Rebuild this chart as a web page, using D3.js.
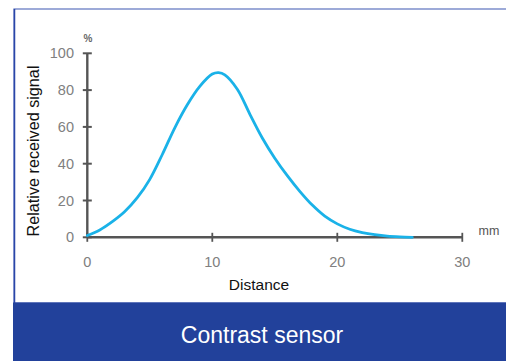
<!DOCTYPE html>
<html><head><meta charset="utf-8">
<script src="https://cdn.jsdelivr.net/npm/d3@7"></script>
<style>body{margin:0;background:#fff;}svg{display:block;}</style>
</head><body>
<script>
const distance = [0, 1, 2, 3, 4, 5, 6, 7, 8, 9, 10, 10.5, 11, 12, 13, 14, 15, 16, 17, 18, 19, 20, 21, 22, 23, 24, 25, 26];
const signal   = [1, 4, 8.5, 14, 21.5, 31.5, 45, 59.5, 72, 82, 88.7, 89.5, 88.3, 80.5, 67, 54, 43, 33.5, 25, 17.5, 11.5, 7.3, 4.4, 2.6, 1.4, 0.6, 0.2, 0];
const xTicks = [0, 10, 20, 30];
const yTicks = [0, 20, 40, 60, 80, 100];

const W = 506, H = 361;
const FONT = "Liberation Sans, Arial, Helvetica, sans-serif";
const svg = d3.select("body").append("svg").attr("width", W).attr("height", H);

// frame
svg.append("rect").attr("x", 14).attr("y", 9).attr("width", W).attr("height", 294)
  .attr("fill", "#fff").attr("stroke", "#5d72bf").attr("stroke-width", 1.2);
svg.append("line").attr("x1", 14.5).attr("x2", 14.5).attr("y1", 9).attr("y2", 303)
  .attr("stroke", "#2a46a8").attr("stroke-width", 1.5);
svg.append("rect").attr("x", 13).attr("y", 302.5).attr("width", W).attr("height", 60).attr("fill", "#22419b");
svg.append("text").attr("x", 262).attr("y", 343).attr("text-anchor", "middle")
  .attr("font-family", FONT).attr("font-size", 23).attr("fill", "#fff")
  .text("Contrast sensor");

const x = d3.scaleLinear().domain([0, 30]).range([87.3, 462.3]);
const y = d3.scaleLinear().domain([0, 100]).range([237.3, 53.3]);

const axisColor = "#555";
const g = svg.append("g");
g.append("line").attr("x1", x(0)).attr("x2", x(30)).attr("y1", y(0)).attr("y2", y(0))
  .attr("stroke", axisColor).attr("stroke-width", 2.4);
g.append("line").attr("x1", x(0)).attr("x2", x(0)).attr("y1", y(0)).attr("y2", y(100))
  .attr("stroke", axisColor).attr("stroke-width", 2.4);
g.selectAll(".xt").data(xTicks).join("line")
  .attr("x1", d => x(d)).attr("x2", d => x(d)).attr("y1", y(0) - 4.5).attr("y2", y(0) + 4.5)
  .attr("stroke", axisColor).attr("stroke-width", 1.8);
g.selectAll(".yt").data(yTicks).join("line")
  .attr("y1", d => y(d)).attr("y2", d => y(d)).attr("x1", x(0) - 4.5).attr("x2", x(0) + 4.5)
  .attr("stroke", axisColor).attr("stroke-width", 2);

const tickFill = "#808080", tickSize = 14.5;
g.selectAll(".xl").data(xTicks).join("text")
  .attr("x", d => x(d)).attr("y", 267).attr("text-anchor", "middle")
  .attr("font-family", FONT).attr("font-size", tickSize).attr("fill", tickFill)
  .text(d => d);
g.selectAll(".yl").data(yTicks).join("text")
  .attr("x", 74).attr("y", d => y(d) + 5).attr("text-anchor", "end")
  .attr("font-family", FONT).attr("font-size", tickSize).attr("fill", tickFill)
  .text(d => d);
g.append("text").attr("x", 88).attr("y", 41.5).attr("text-anchor", "middle")
  .attr("font-family", FONT).attr("font-size", 10).attr("font-weight", "bold").attr("fill", "#666").text("%");
g.append("text").attr("x", 489).attr("y", 234.5).attr("text-anchor", "middle")
  .attr("font-family", FONT).attr("font-size", 12.5).attr("fill", "#555").text("mm");

svg.append("text").attr("x", 259).attr("y", 290).attr("text-anchor", "middle")
  .attr("font-family", FONT).attr("font-size", 15.5).attr("fill", "#111").text("Distance");
svg.append("text").attr("transform", "translate(38.5,151) rotate(-90)").attr("text-anchor", "middle")
  .attr("font-family", FONT).attr("font-size", 16.2).attr("fill", "#111").text("Relative received signal");

const pts = distance.map((d, i) => [d, signal[i]]);
svg.append("path").datum(pts)
  .attr("fill", "none").attr("stroke", "#1ab2e8").attr("stroke-width", 2.8).attr("stroke-linecap", "round")
  .attr("d", d3.line().x(d => x(d[0])).y(d => y(d[1])).curve(d3.curveCatmullRom.alpha(0.5)));
</script>
</body></html>
